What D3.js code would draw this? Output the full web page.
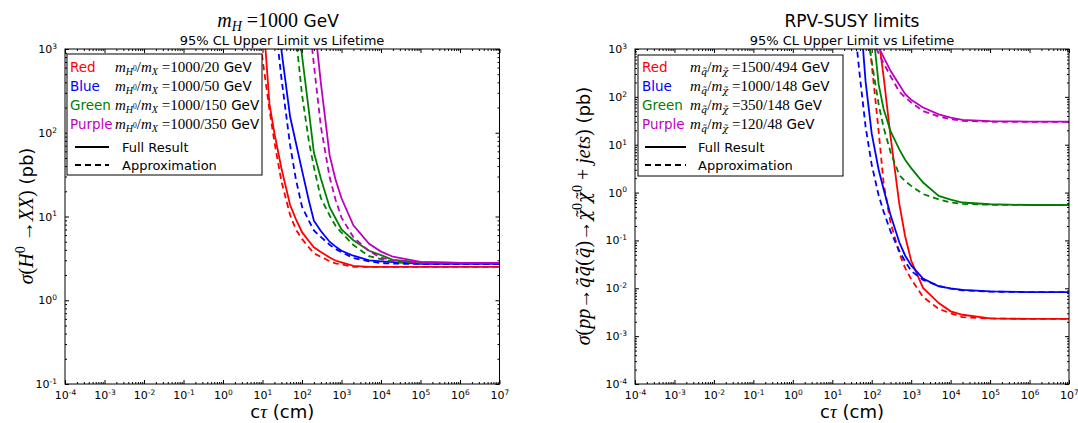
<!DOCTYPE html>
<html>
<head>
<meta charset="utf-8">
<script src="https://cdn.jsdelivr.net/npm/d3@7"></script>
<style>
  html, body { margin: 0; padding: 0; background: #fff; }
  svg { display: block; }
</style>
</head>
<body>
<svg id="chart" width="1078" height="423"></svg>
<script>
// Lifetime grid (c*tau in cm) shared by every curve
const ctau = [7, 10, 15, 20, 30, 50, 70, 100, 150, 200, 300, 500, 700, 1000, 2000, 5000, 1e4, 2e4, 1e5, 1e6, 1e7];

// Left panel: m_H = 1000 GeV, sigma(H0 -> XX) in pb
const hRedFull     = [null, 3160, 221, 99, 38, 13.7, 9.3, 6.5, 5.06, 4.28, 3.78, 3.24, 2.98, 2.83, 2.57, 2.5, 2.5, 2.5, 2.5, 2.5, 2.5];
const hRedApprox   = [2570, 760, 189, 78, 26.6, 10.4, 7.0, 5.4, 4.26, 3.63, 3.3, 2.93, 2.75, 2.69, 2.5, 2.5, 2.5, 2.5, 2.5, 2.5, 2.5];
const hBlueFull    = [null, null, null, 4000, 980, 155, 76, 35.5, 15.3, 8.9, 6.7, 5.0, 4.4, 3.9, 3.4, 3.0, 2.92, 2.85, 2.72, 2.72, 2.72];
const hBlueApprox  = [null, null, null, 2600, 457, 71, 27.9, 13.1, 8.85, 6.8, 5.7, 4.6, 4.1, 3.76, 3.19, 2.92, 2.77, 2.74, 2.71, 2.71, 2.71];
const hGreenFull   = [null, null, null, null, null, null, 3200, 837, 179, 58, 28.4, 12.9, 9.6, 7.0, 5.2, 3.9, 3.45, 3.04, 2.86, 2.79, 2.79];
const hGreenApprox = [null, null, null, null, null, null, 1420, 286, 78, 39, 16.6, 10.3, 7.8, 6.4, 4.56, 3.36, 3.1, 2.9, 2.79, 2.79, 2.79];
const hPurpleFull  = [null, null, null, null, null, null, null, null, null, 2370, 395, 54, 28.1, 16.5, 7.85, 4.73, 3.81, 3.31, 2.88, 2.79, 2.79];
const hPurpleApprox= [null, null, null, null, null, null, null, null, 2340, 650, 119, 29.6, 16.1, 9.7, 5.65, 3.85, 3.22, 3.02, 2.79, 2.79, 2.79];

// Right panel: RPV-SUSY squark pair production, sigma in pb
const sRedFull     = [null, null, null, null, null, null, null, null, 1650, 265, 14.7, 0.58, 0.124, 0.0378, 0.0102, 0.0049, 0.0033, 0.0028, 0.00234, 0.00229, 0.00229];
const sRedApprox   = [null, null, null, null, null, null, 7000, 473, 19, 1.57, 0.234, 0.0543, 0.0267, 0.0155, 0.0066, 0.0037, 0.0030, 0.0025, 0.00234, 0.00229, 0.00229];
const sBlueFull    = [null, null, null, null, null, 7200, 205, 17, 3.0, 1.17, 0.34, 0.0916, 0.0485, 0.030, 0.016, 0.011, 0.00995, 0.00925, 0.0086, 0.0083, 0.0083];
const sBlueApprox  = [null, null, null, null, 15500, 270, 23.5, 3.8, 0.87, 0.40, 0.154, 0.06, 0.0367, 0.023, 0.015, 0.0112, 0.0098, 0.0091, 0.0085, 0.0083, 0.0083];
const sGreenFull   = [null, null, null, null, null, null, null, 4400, 182, 56, 19.3, 8.0, 4.84, 3.25, 1.62, 0.85, 0.71, 0.62, 0.57, 0.55, 0.55];
const sGreenApprox = [null, null, null, null, null, null, 4000, 550, 69, 23, 7.0, 2.32, 1.74, 1.38, 0.93, 0.72, 0.62, 0.58, 0.556, 0.55, 0.55];
const sPurpleFull  = [null, null, null, null, null, null, null, 2150, 1090, 676, 350, 179, 115, 87, 60, 43, 37, 33, 31, 30.5, 30.5];
const sPurpleApprox= [null, null, null, null, null, null, null, 1585, 815, 506, 270, 128, 98, 76, 50.6, 39, 34, 31.6, 30.2, 29.9, 29.9];

// Legend labels
const colorNames = ["Red", "Blue", "Green", "Purple"];
const hMassRatios = ["1000/20", "1000/50", "1000/150", "1000/350"];
const sMassRatios = ["1500/494", "1000/148", "350/148", "120/48"];
const styleNames = ["Full Result", "Approximation"];

// Axis ticks
const xMajor = d3.range(-4, 8).map(e => Math.pow(10, e));
const yMajorH = d3.range(-1, 4).map(e => Math.pow(10, e));
const yMajorS = d3.range(-4, 4).map(e => Math.pow(10, e));

const colors = ["#ff0000", "#0000ff", "#008000", "#bf00bf"];
const SERIF = "'Liberation Serif', 'DejaVu Serif', serif";
const SANS = "'DejaVu Sans', sans-serif";

const svg = d3.select("#chart");

// Writes a run of mixed-font pieces into one text element.
// Each piece: {t, f:'serif'|'sans'|'dserif', i:italic, s:size, b:baseline shift (negative = up)}
function rich(textSel, pieces) {
  let cur = 0;
  pieces.forEach(p => {
    const b = p.b || 0;
    const fam = p.f === "sans" ? SANS : (p.f === "dserif" ? "'DejaVu Serif', serif" : SERIF);
    textSel.append("tspan")
      .attr("dy", b - cur)
      .attr("font-family", fam)
      .attr("font-style", p.i ? "italic" : "normal")
      .attr("font-size", p.s)
      .text(p.t);
    cur = b;
  });
}

function minorTicks(lo, hi) {
  const out = [];
  for (let e = lo; e < hi; e++) {
    for (let k = 2; k <= 9; k++) out.push(k * Math.pow(10, e));
  }
  return out;
}

function powLabels(g) {
  g.selectAll(".tick text").each(function(d) {
    const e = Math.round(Math.log10(d));
    const t = d3.select(this);
    t.text(null);
    t.append("tspan").text("10");
    t.append("tspan").attr("dy", "-0.55em").attr("font-size", "7.5px").text(e);
  });
}

function panel(cfg) {
  const { x0, x1, y0, y1, yLo, yHi, yMajor, id } = cfg;
  const x = d3.scaleLog().domain([1e-4, 1e7]).range([x0, x1]);
  const y = d3.scaleLog().domain([Math.pow(10, yLo), Math.pow(10, yHi)]).range([y1, y0]);
  const g = svg.append("g");

  g.append("clipPath").attr("id", id).append("rect")
    .attr("x", x0).attr("y", y0).attr("width", x1 - x0).attr("height", y1 - y0);

  const xMinor = minorTicks(-4, 7);
  const yMinor = minorTicks(yLo, yHi);

  const axes = [];
  function add(axis, tx, ty) {
    const a = g.append("g").attr("transform", `translate(${tx},${ty})`).call(axis);
    axes.push(a);
    return a;
  }
  // major ticks, labelled on bottom and left only
  const gb = add(d3.axisBottom(x).tickValues(xMajor).tickSize(-4).tickPadding(5).tickFormat(d => d), 0, y1);
  const gl = add(d3.axisLeft(y).tickValues(yMajor).tickSize(-4).tickPadding(8).tickFormat(d => d), x0, 0);
  add(d3.axisTop(x).tickValues(xMajor).tickSize(-4).tickFormat(() => ""), 0, y0);
  add(d3.axisRight(y).tickValues(yMajor).tickSize(-4).tickFormat(() => ""), x1, 0);
  // minor ticks on all four sides
  add(d3.axisBottom(x).tickValues(xMinor).tickSize(-2).tickFormat(() => ""), 0, y1);
  add(d3.axisTop(x).tickValues(xMinor).tickSize(-2).tickFormat(() => ""), 0, y0);
  add(d3.axisLeft(y).tickValues(yMinor).tickSize(-2).tickFormat(() => ""), x0, 0);
  add(d3.axisRight(y).tickValues(yMinor).tickSize(-2).tickFormat(() => ""), x1, 0);

  axes.forEach(a => {
    a.selectAll(".domain").remove();
    a.selectAll(".tick line").attr("stroke", "#000").attr("stroke-width", 1);
    a.selectAll(".tick text").attr("font-family", SANS).attr("font-size", "11px").attr("fill", "#000");
    a.attr("font-family", SANS);
  });
  powLabels(gb);
  powLabels(gl);
  gb.selectAll(".tick text").attr("dy", "0.95em");

  // curves
  const line = d3.line()
    .defined(d => d[1] != null)
    .x(d => x(d[0]))
    .y(d => y(d[1]));
  const plot = g.append("g").attr("clip-path", `url(#${id})`);
  cfg.series.forEach(s => {
    plot.append("path")
      .datum(ctau.map((c, i) => [c, s.v[i]]))
      .attr("d", line)
      .attr("fill", "none")
      .attr("stroke", s.c)
      .attr("stroke-width", 1.8)
      .attr("stroke-dasharray", s.dash ? "6,4" : null);
  });

  // frame
  g.append("rect").attr("x", x0).attr("y", y0).attr("width", x1 - x0).attr("height", y1 - y0)
    .attr("fill", "none").attr("stroke", "#000").attr("stroke-width", 1);

  // x label
  const xl = g.append("text").attr("x", (x0 + x1) / 2).attr("y", 418).attr("text-anchor", "middle");
  rich(xl, [{ t: "c", f: "sans", s: "18px" }, { t: "τ", i: true, s: "19px" }, { t: " (cm)", f: "sans", s: "18px" }]);

  return { x, y, g };
}

// ---- Left panel ----
panel({
  id: "clipL", x0: 65, x1: 499.5, y0: 49, y1: 384, yLo: -1, yHi: 3, yMajor: yMajorH,
  series: [
    { v: hRedFull, c: colors[0] }, { v: hRedApprox, c: colors[0], dash: true },
    { v: hBlueFull, c: colors[1] }, { v: hBlueApprox, c: colors[1], dash: true },
    { v: hGreenFull, c: colors[2] }, { v: hGreenApprox, c: colors[2], dash: true },
    { v: hPurpleFull, c: colors[3] }, { v: hPurpleApprox, c: colors[3], dash: true }
  ]
});

// ---- Right panel ----
panel({
  id: "clipR", x0: 635, x1: 1069, y0: 49, y1: 384, yLo: -4, yHi: 3, yMajor: yMajorS,
  series: [
    { v: sRedFull, c: colors[0] }, { v: sRedApprox, c: colors[0], dash: true },
    { v: sBlueFull, c: colors[1] }, { v: sBlueApprox, c: colors[1], dash: true },
    { v: sGreenFull, c: colors[2] }, { v: sGreenApprox, c: colors[2], dash: true },
    { v: sPurpleFull, c: colors[3] }, { v: sPurpleApprox, c: colors[3], dash: true }
  ]
});

// Titles
const tL = svg.append("text").attr("x", 278).attr("y", 27).attr("text-anchor", "middle");
rich(tL, [
  { t: "m", i: true, s: "20px" }, { t: "H", i: true, s: "14px", b: 4 },
  { t: " =1000", s: "20px", b: 0 }, { t: " GeV", f: "sans", s: "17px" }
]);
svg.append("text").attr("x", 282).attr("y", 45).attr("text-anchor", "middle")
  .attr("font-family", SANS).attr("font-size", "13px").text("95% CL Upper Limit vs Lifetime");
svg.append("text").attr("x", 852).attr("y", 27).attr("text-anchor", "middle")
  .attr("font-family", SANS).attr("font-size", "17px").text("RPV-SUSY limits");
svg.append("text").attr("x", 852).attr("y", 45).attr("text-anchor", "middle")
  .attr("font-family", SANS).attr("font-size", "13px").text("95% CL Upper Limit vs Lifetime");

// Y labels
const yl = svg.append("text").attr("transform", "translate(33,216) rotate(-90)").attr("text-anchor", "middle");
rich(yl, [
  { t: "σ", i: true, s: "20px" }, { t: "(", s: "20px" }, { t: "H", i: true, s: "20px" },
  { t: "0", s: "14px", b: -8 }, { t: " →", s: "20px", b: 0 }, { t: "XX", i: true, s: "20px" },
  { t: ")", s: "20px" }, { t: " (pb)", f: "sans", s: "18px" }
]);
const yr = svg.append("text").attr("transform", "translate(590,216) rotate(-90)").attr("text-anchor", "middle");
rich(yr, [
  { t: "σ", i: true, s: "20px" }, { t: "(", s: "20px" }, { t: "pp", i: true, s: "20px" },
  { t: "→", s: "20px" }, { t: "q\u0303q\u0303\u0304", f: "dserif", i: true, s: "18px" },
  { t: "(", s: "20px" }, { t: "q\u0303", f: "dserif", i: true, s: "18px" }, { t: ")", s: "20px" },
  { t: "→", s: "20px" }, { t: "χ\u0303", f: "dserif", i: true, s: "18px" }, { t: "0", s: "14px", b: -8 },
  { t: "χ\u0303", f: "dserif", i: true, s: "18px", b: 0 }, { t: "0", s: "14px", b: -8 },
  { t: " + ", s: "20px", b: 0 }, { t: "jets", i: true, s: "20px" }, { t: ")", s: "20px" },
  { t: " (pb)", f: "sans", s: "18px" }
]);

// Legends
function legend(cfg) {
  const { bx, by, bw, bh, tx, mx, hx0, hx1, stx, massPieces } = cfg;
  const lg = svg.append("g");
  lg.append("rect").attr("x", bx).attr("y", by).attr("width", bw).attr("height", bh)
    .attr("fill", "#fff").attr("stroke", "#000").attr("stroke-width", 1);
  const rowY = [71.5, 90.5, 109.5, 128.5];
  colorNames.forEach((n, i) => {
    lg.append("text").attr("x", tx).attr("y", rowY[i]).attr("fill", colors[i])
      .attr("font-family", SANS).attr("font-size", "13.5px").text(n);
    const mt = lg.append("text").attr("x", mx).attr("y", rowY[i]).attr("fill", "#000");
    rich(mt, massPieces(i));
  });
  const hy = [147, 165];
  styleNames.forEach((n, i) => {
    lg.append("line").attr("x1", hx0).attr("x2", hx1).attr("y1", hy[i]).attr("y2", hy[i])
      .attr("stroke", "#000").attr("stroke-width", 1.8)
      .attr("stroke-dasharray", i === 1 ? "6,4" : null);
    lg.append("text").attr("x", stx).attr("y", hy[i] + 4.5)
      .attr("font-family", SANS).attr("font-size", "13px").text(n);
  });
}

legend({
  bx: 67, by: 54, bw: 195, bh: 121, tx: 70, mx: 115, hx0: 75, hx1: 109, stx: 122,
  massPieces: i => [
    { t: "m", i: true, s: "15px" }, { t: "H", i: true, s: "10px", b: 3 }, { t: "0", s: "7.5px", b: -1 },
    { t: "/", s: "15px", b: 0 }, { t: "m", i: true, s: "15px" }, { t: "X", i: true, s: "10px", b: 3 },
    { t: " =" + hMassRatios[i], s: "15px", b: 0 }, { t: " GeV", f: "sans", s: "13.5px" }
  ]
});
legend({
  bx: 638, by: 55, bw: 205, bh: 121, tx: 642, mx: 690, hx0: 645, hx1: 686, stx: 698,
  massPieces: i => [
    { t: "m", i: true, s: "15px" }, { t: "q\u0303", f: "dserif", i: true, s: "10px", b: 3 },
    { t: "/", s: "15px", b: 0 }, { t: "m", i: true, s: "15px" }, { t: "χ\u0303", f: "dserif", i: true, s: "10px", b: 3 },
    { t: " =" + sMassRatios[i], s: "15px", b: 0 }, { t: " GeV", f: "sans", s: "13.5px" }
  ]
});
</script>
</body>
</html>
